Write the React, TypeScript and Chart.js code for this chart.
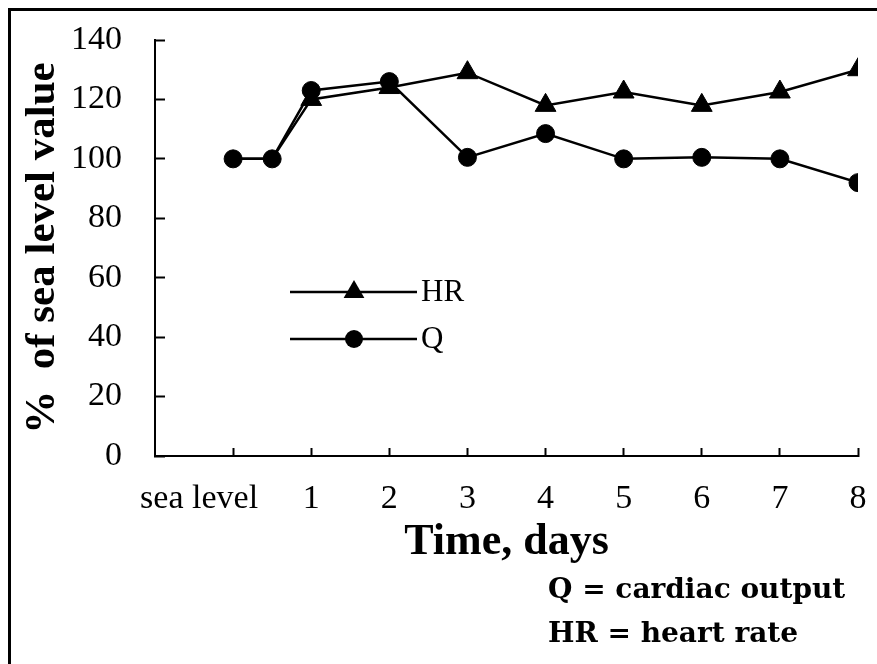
import React, { useEffect, useRef } from "react";
import { Chart, registerables } from "chart.js";

Chart.register(...registerables);

// x positions (days; 0 = sea level)
const dayValues = [0, 0.5, 1, 2, 3, 4, 5, 6, 7, 8];
const hrValues = [100, 100, 120, 124, 129, 118, 122.5, 118, 122.5, 130];
const qValues = [100, 100, 123, 126, 100.5, 108.5, 100, 100.5, 100, 92];
const xTickLabels: Record<number, string> = {
  0: "sea level\u00a0\u00a0\u00a0\u00a0\u00a0\u00a0\u00a0\u00a0",
  1: "1", 2: "2", 3: "3", 4: "4", 5: "5", 6: "6", 7: "7", 8: "8",
};
const yTicks = [0, 20, 40, 60, 80, 100, 120, 140];
const legendItems = ["HR", "Q"];
const notes = ["Q = cardiac output", "HR = heart rate"];

const SERIF = "'Liberation Serif', 'Times New Roman', serif";

const legendPlugin = {
  id: "innerLegend",
  afterDatasetsDraw(chart: any) {
    const { ctx, chartArea: ca } = chart;
    const rows = [
      { label: legendItems[0], style: "triangle", r: 12, dy: 252 },
      { label: legendItems[1], style: "circle", r: 9, dy: 299 },
    ];
    ctx.save();
    rows.forEach((row) => {
      const y = ca.top + row.dy;
      const x0 = ca.left + 135;
      const x1 = ca.left + 262;
      const xm = ca.left + 199;
      ctx.strokeStyle = "#000";
      ctx.lineWidth = 2.5;
      ctx.beginPath();
      ctx.moveTo(x0, y);
      ctx.lineTo(x1, y);
      ctx.stroke();
      ctx.fillStyle = "#000";
      ctx.beginPath();
      if (row.style === "circle") {
        ctx.arc(xm, y, row.r, 0, Math.PI * 2);
      } else {
        let rad = 0;
        const R = row.r;
        ctx.moveTo(xm + Math.sin(rad) * R, y - Math.cos(rad) * R);
        rad += (2 * Math.PI) / 3;
        ctx.lineTo(xm + Math.sin(rad) * R, y - Math.cos(rad) * R);
        rad += (2 * Math.PI) / 3;
        ctx.lineTo(xm + Math.sin(rad) * R, y - Math.cos(rad) * R);
        ctx.closePath();
      }
      ctx.fill();
      ctx.font = `31px ${SERIF}`;
      ctx.textBaseline = "middle";
      ctx.textAlign = "left";
      ctx.fillText(row.label, x1 + 4, y + 1);
    });
    ctx.restore();
  },
};

export default function App() {
  const ref = useRef<HTMLCanvasElement | null>(null);

  useEffect(() => {
    if (!ref.current) return;
    const chart = new Chart(ref.current, {
      type: "line",
      data: {
        datasets: [
          {
            label: "Q",
            data: dayValues.map((d, i) => ({ x: d, y: qValues[i] })),
            borderColor: "#000",
            backgroundColor: "#000",
            borderWidth: 2.5,
            pointStyle: "circle",
            pointRadius: 9,
            pointBorderWidth: 1,
            pointBackgroundColor: "#000",
            tension: 0,
            order: 0,
          },
          {
            label: "HR",
            data: dayValues.map((d, i) => ({ x: d, y: hrValues[i] })),
            borderColor: "#000",
            backgroundColor: "#000",
            borderWidth: 2.5,
            pointStyle: "triangle",
            // sea-level triangles are hidden under the Q circles in the original
            pointRadius: (c: any) => (c.dataIndex < 2 ? 0 : 12),
            pointBorderWidth: 1,
            pointBackgroundColor: "#000",
            tension: 0,
            order: 1,
          },
        ],
      },
      options: {
        responsive: false,
        animation: false,
        events: [],
        layout: { padding: { top: 29, right: 19, bottom: 95, left: 0 } },
        plugins: {
          legend: { display: false },
          tooltip: { enabled: false },
        },
        scales: {
          x: {
            type: "linear",
            min: -1,
            max: 8,
            afterBuildTicks: (s: any) => {
              s.ticks = [0, 1, 2, 3, 4, 5, 6, 7, 8].map((v) => ({ value: v }));
            },
            afterFit: (s: any) => {
              s.height = 113;
              s.paddingLeft = 0;
              s.paddingRight = 0;
            },
            ticks: {
              autoSkip: false,
              maxRotation: 0,
              minRotation: 0,
              color: "#000",
              font: { family: SERIF, size: 34 },
              padding: 31,
              callback: (v: any) => xTickLabels[v as number] ?? "",
            },
            grid: {
              drawOnChartArea: false,
              drawTicks: true,
              tickLength: -8,
              tickWidth: 2,
              color: "#000",
            },
            border: { display: true, color: "#000", width: 2 },
            title: {
              display: true,
              text: "Time, days",
              color: "#000",
              font: { family: SERIF, size: 44, weight: "bold" },
              padding: { top: 0, bottom: 0 },
            },
          },
          y: {
            min: 0,
            max: 140,
            afterBuildTicks: (s: any) => {
              s.ticks = yTicks.map((v) => ({ value: v }));
            },
            afterFit: (s: any) => {
              s.width = 144;
              s.paddingTop = 0;
              s.paddingBottom = 0;
            },
            ticks: {
              color: "#000",
              font: { family: SERIF, size: 34 },
              padding: 43,
            },
            grid: {
              drawOnChartArea: false,
              drawTicks: true,
              tickLength: -10,
              tickWidth: 2,
              color: "#000",
            },
            border: { display: true, color: "#000", width: 2 },
            title: {
              display: true,
              text: "%  of sea level value",
              color: "#000",
              font: { family: SERIF, size: 43, weight: "bold" },
              padding: { top: 6, bottom: 0 },
            },
          },
        },
      },
      plugins: [legendPlugin],
    } as any);
    return () => chart.destroy();
  }, []);

  const noteStyle: React.CSSProperties = {
    position: "absolute",
    left: 537,
    fontFamily: "'DejaVu Serif', serif",
    fontWeight: "bold",
    fontSize: 28,
    lineHeight: "30px",
    color: "#000",
    whiteSpace: "nowrap",
  };

  return (
    <div
      style={{
        position: "fixed",
        left: 8,
        top: 8,
        width: 866,
        height: 653,
        borderLeft: "3px solid #000",
        borderTop: "3px solid #000",
        background: "#fff",
      }}
    >
      <canvas ref={ref} width={866} height={653} style={{ display: "block" }} />
      <div style={{ ...noteStyle, top: 563 }}>{notes[0]}</div>
      <div style={{ ...noteStyle, top: 607 }}>{notes[1]}</div>
    </div>
  );
}
